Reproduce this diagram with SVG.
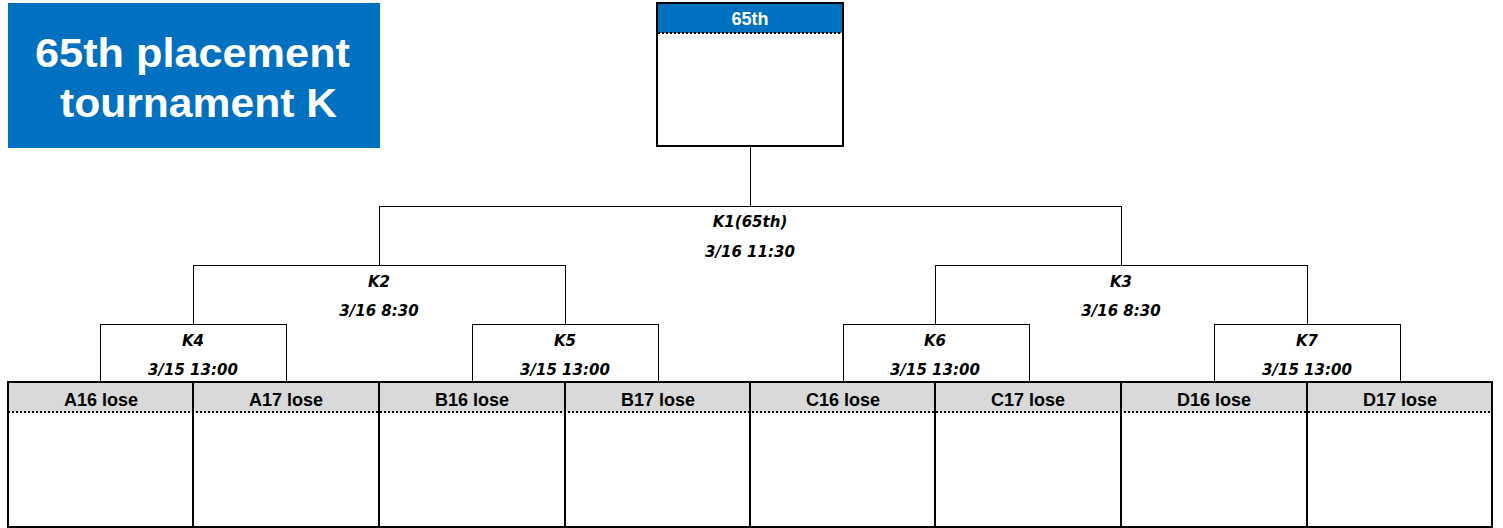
<svg xmlns="http://www.w3.org/2000/svg" width="1503" height="528" viewBox="0 0 1503 528">
<style>
.ln{stroke:#000;stroke-width:1;fill:none}
.bx{stroke:#000;stroke-width:2;fill:none}
.dot{stroke:#000;stroke-width:2;stroke-dasharray:2 2;fill:none}
.lbl{font-family:"DejaVu Sans",sans-serif;font-weight:bold;font-style:italic;font-size:15px;fill:#000;text-anchor:middle}
.hd{font-family:"Liberation Sans",Arial,sans-serif;font-weight:bold;font-size:18px;fill:#000;text-anchor:middle}
.ttl{font-family:"Liberation Sans",Arial,sans-serif;font-weight:bold;font-size:40px;fill:#fff}
</style>
<rect width="1503" height="528" fill="#fff"/>
<g id="title">
<rect x="8" y="3" width="372" height="145" fill="#0070C0"/>
<text class="ttl" x="35" y="67" textLength="315" lengthAdjust="spacingAndGlyphs">65th placement</text>
<text class="ttl" x="60" y="117" textLength="277" lengthAdjust="spacingAndGlyphs">tournament K</text>
</g>
<g id="winner">
<rect x="657" y="3" width="186" height="30" fill="#0070C0"/>
<rect x="657" y="3" width="186" height="143" class="bx"/>
<line x1="658" y1="33" x2="842" y2="33" class="dot"/>
<text class="hd" x="750" y="25" fill="#fff" style="fill:#fff">65th</text>
</g>
<g id="connectors">
<path class="ln" d="M750.5 146V206.5M379.5 206.5H1121.5M379.5 206V265M1121.5 206V265"/>
<path class="ln" d="M193.5 265.5H565.5M935.5 265.5H1307.5M193.5 265V324M565.5 265V324M935.5 265V324M1307.5 265V324"/>
<path class="ln" d="M100.5 324.5H286.5M472.5 324.5H658.5M843.5 324.5H1029.5M1214.5 324.5H1400.5"/>
<path class="ln" d="M100.5 324V382M286.5 324V382M472.5 324V382M658.5 324V382M843.5 324V382M1029.5 324V382M1214.5 324V382M1400.5 324V382"/>
</g>
<g id="K1"><text class="lbl" x="750" y="227">K1(65th)</text><text class="lbl" x="750" y="257">3/16 11:30</text></g>
<g id="K2"><text class="lbl" x="379" y="287">K2</text><text class="lbl" x="379" y="316">3/16 8:30</text></g>
<g id="K3"><text class="lbl" x="1121" y="287">K3</text><text class="lbl" x="1121" y="316">3/16 8:30</text></g>
<g id="K4"><text class="lbl" x="193" y="346">K4</text><text class="lbl" x="193" y="375">3/15 13:00</text></g>
<g id="K5"><text class="lbl" x="565" y="346">K5</text><text class="lbl" x="565" y="375">3/15 13:00</text></g>
<g id="K6"><text class="lbl" x="935" y="346">K6</text><text class="lbl" x="935" y="375">3/15 13:00</text></g>
<g id="K7"><text class="lbl" x="1307" y="346">K7</text><text class="lbl" x="1307" y="375">3/15 13:00</text></g>
<g id="entries">
<rect x="8" y="382" width="1484" height="30" fill="#D9D9D9"/>
<line x1="8" y1="412" x2="1492" y2="412" class="dot"/>
<rect x="8" y="382" width="1484" height="145" class="bx"/>
<path class="bx" d="M193 382V527M379 382V527M565 382V527M750 382V527M935 382V527M1121 382V527M1307 382V527"/>
</g>
<g id="A16"><text class="hd" x="101" y="406">A16 lose</text></g>
<g id="A17"><text class="hd" x="286" y="406">A17 lose</text></g>
<g id="B16"><text class="hd" x="472" y="406">B16 lose</text></g>
<g id="B17"><text class="hd" x="658" y="406">B17 lose</text></g>
<g id="C16"><text class="hd" x="843" y="406">C16 lose</text></g>
<g id="C17"><text class="hd" x="1028" y="406">C17 lose</text></g>
<g id="D16"><text class="hd" x="1214" y="406">D16 lose</text></g>
<g id="D17"><text class="hd" x="1400" y="406">D17 lose</text></g>
</svg>
